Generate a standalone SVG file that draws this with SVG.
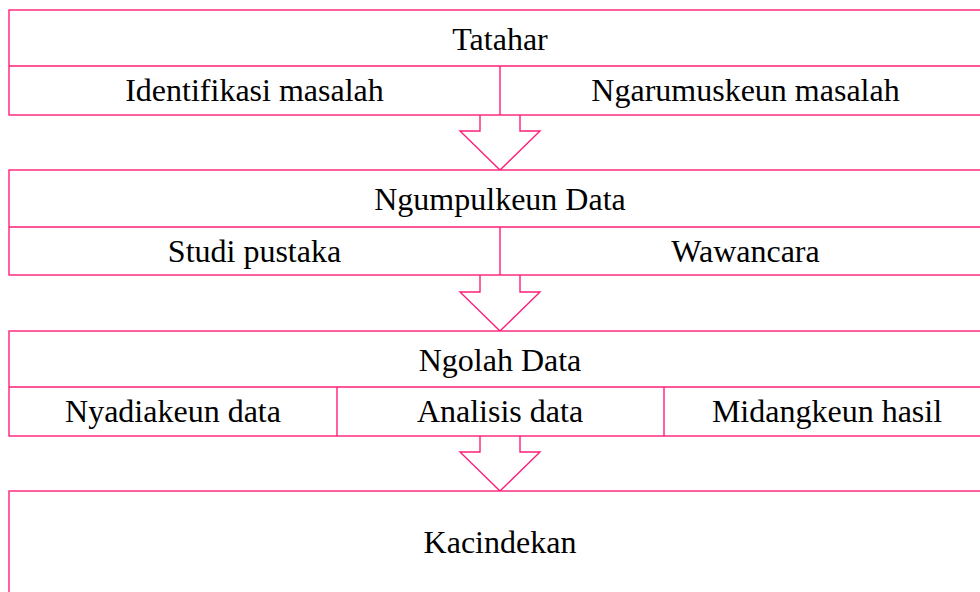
<svg xmlns="http://www.w3.org/2000/svg" width="980" height="592" viewBox="0 0 980 592">
<style>
.b{fill:#fff;stroke:#ff1e78;stroke-width:1.4}
.l{fill:none;stroke:#ff1e78;stroke-width:1.4}
.a{fill:#fff;stroke:#ff1e78;stroke-width:1.4;stroke-linejoin:miter}
text{font-family:"Liberation Serif","Times New Roman",serif;font-size:32px;fill:#000;text-anchor:middle}
</style>
<rect width="980" height="592" fill="#fff"/>
<g id="connectors">
<path class="a" d="M480,115 V131 H460 L500,170 L540,131 H520 V115"/>
<path class="a" d="M480,275 V292 H460 L500,331 L540,292 H520 V275"/>
<path class="a" d="M480,436 V452 H460 L500,491 L540,452 H520 V436"/>
</g>
<g id="tatahar">
<rect class="b" x="9" y="10" width="982" height="105"/>
<line class="l" x1="9" y1="66" x2="991" y2="66"/>
<line class="l" x1="500" y1="66" x2="500" y2="115"/>
<text x="500" y="50">Tatahar</text>
<text x="254.5" y="101">Identifikasi masalah</text>
<text x="745.5" y="101">Ngarumuskeun masalah</text>
</g>
<g id="ngumpulkeun">
<rect class="b" x="9" y="170" width="982" height="105"/>
<line class="l" x1="9" y1="227" x2="991" y2="227"/>
<line class="l" x1="500" y1="227" x2="500" y2="275"/>
<text x="500" y="210">Ngumpulkeun Data</text>
<text x="254.5" y="262">Studi pustaka</text>
<text x="745.5" y="262">Wawancara</text>
</g>
<g id="ngolah">
<rect class="b" x="9" y="331" width="982" height="105"/>
<line class="l" x1="9" y1="387" x2="991" y2="387"/>
<line class="l" x1="337" y1="387" x2="337" y2="436"/>
<line class="l" x1="664" y1="387" x2="664" y2="436"/>
<text x="500" y="371">Ngolah Data</text>
<text x="173" y="422">Nyadiakeun data</text>
<text x="500" y="422">Analisis data</text>
<text x="827" y="422">Midangkeun hasil</text>
</g>
<g id="kacindekan">
<rect class="b" x="9" y="491" width="982" height="120"/>
<text x="500" y="553">Kacindekan</text>
</g>
</svg>
